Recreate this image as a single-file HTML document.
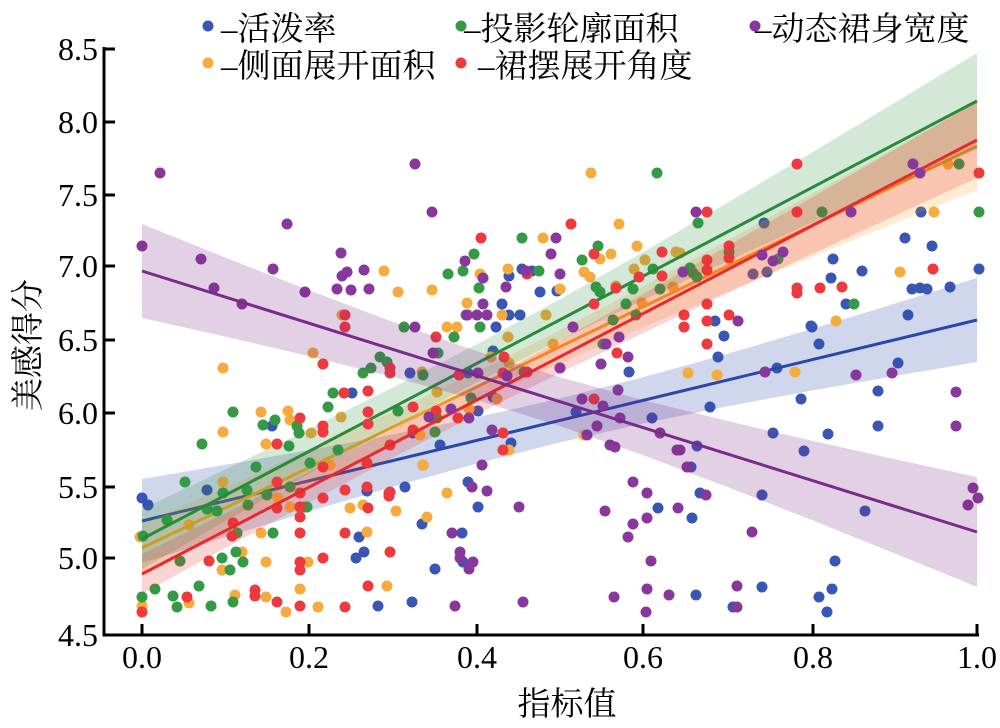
<!DOCTYPE html>
<html><head><meta charset="utf-8"><style>
html,body{margin:0;padding:0;background:#fff;}
svg{display:block;}
.b{fill:#3a56b4}.g{fill:#349a46}.o{fill:#f5ab3e}.r{fill:#ec3a3e}.p{fill:#88379c}
.t{font-family:"Liberation Serif","Noto Serif CJK SC",serif;fill:#000;}
</style></head><body>
<svg width="1000" height="728" viewBox="0 0 1000 728" xmlns="http://www.w3.org/2000/svg">
<rect width="1000" height="728" fill="#fff"/>

<!-- BLUE -->
<g class="b">
<circle cx="142" cy="498" r="5.5"/><circle cx="148" cy="505" r="5.5"/><circle cx="207" cy="490" r="5.5"/><circle cx="272" cy="426" r="5.5"/><circle cx="352" cy="393" r="5.5"/><circle cx="359" cy="537" r="5.5"/><circle cx="367" cy="491" r="5.5"/><circle cx="364" cy="552" r="5.5"/><circle cx="356" cy="558" r="5.5"/><circle cx="378" cy="606" r="5.5"/><circle cx="412" cy="602" r="5.5"/><circle cx="435" cy="569" r="5.5"/><circle cx="422" cy="524" r="5.5"/><circle cx="462" cy="533" r="5.5"/><circle cx="463" cy="562" r="5.5"/><circle cx="468" cy="482" r="5.5"/><circle cx="478" cy="507" r="5.5"/><circle cx="405" cy="487" r="5.5"/><circle cx="410" cy="373" r="5.5"/><circle cx="413" cy="433" r="5.5"/><circle cx="440" cy="445" r="5.5"/><circle cx="423" cy="465" r="5.5"/><circle cx="468" cy="373" r="5.5"/><circle cx="478" cy="411" r="5.5"/><circle cx="493" cy="397" r="5.5"/><circle cx="493" cy="351" r="5.5"/><circle cx="502" cy="304" r="5.5"/><circle cx="509" cy="276" r="5.5"/><circle cx="509" cy="315" r="5.5"/><circle cx="520" cy="315" r="5.5"/><circle cx="496" cy="327" r="5.5"/><circle cx="522" cy="269" r="5.5"/><circle cx="532" cy="271" r="5.5"/><circle cx="540" cy="292" r="5.5"/><circle cx="557" cy="291" r="5.5"/><circle cx="511" cy="443" r="5.5"/><circle cx="576" cy="412" r="5.5"/><circle cx="629" cy="372" r="5.5"/><circle cx="652" cy="418" r="5.5"/><circle cx="764" cy="223" r="5.5"/><circle cx="905" cy="238" r="5.5"/><circle cx="932" cy="246" r="5.5"/><circle cx="921" cy="212" r="5.5"/><circle cx="753" cy="274" r="5.5"/><circle cx="767" cy="272" r="5.5"/><circle cx="833" cy="259" r="5.5"/><circle cx="831" cy="278" r="5.5"/><circle cx="862" cy="271" r="5.5"/><circle cx="979" cy="269" r="5.5"/><circle cx="912" cy="289" r="5.5"/><circle cx="920" cy="288" r="5.5"/><circle cx="927" cy="289" r="5.5"/><circle cx="950" cy="287" r="5.5"/><circle cx="846" cy="304" r="5.5"/><circle cx="908" cy="315" r="5.5"/><circle cx="811" cy="326" r="5.5"/><circle cx="724" cy="336" r="5.5"/><circle cx="715" cy="321" r="5.5"/><circle cx="718" cy="357" r="5.5"/><circle cx="777" cy="368" r="5.5"/><circle cx="812" cy="327" r="5.5"/><circle cx="819" cy="344" r="5.5"/><circle cx="898" cy="363" r="5.5"/><circle cx="878" cy="391" r="5.5"/><circle cx="710" cy="407" r="5.5"/><circle cx="801" cy="399" r="5.5"/><circle cx="878" cy="426" r="5.5"/><circle cx="773" cy="433" r="5.5"/><circle cx="828" cy="434" r="5.5"/><circle cx="804" cy="451" r="5.5"/><circle cx="697" cy="446" r="5.5"/><circle cx="691" cy="467" r="5.5"/><circle cx="700" cy="493" r="5.5"/><circle cx="762" cy="495" r="5.5"/><circle cx="865" cy="511" r="5.5"/><circle cx="658" cy="508" r="5.5"/><circle cx="692" cy="518" r="5.5"/><circle cx="835" cy="561" r="5.5"/><circle cx="762" cy="587" r="5.5"/><circle cx="832" cy="589" r="5.5"/><circle cx="696" cy="595" r="5.5"/><circle cx="819" cy="597" r="5.5"/><circle cx="733" cy="607" r="5.5"/><circle cx="827" cy="612" r="5.5"/>
</g>
<polygon fill="#2a48a8" fill-opacity="0.22" points="142,479 225.5,464.8 309,450.1 392.5,434.5 476,417.5 559.5,398.5 643,377.3 726.5,354.1 810,329.5 893.5,304 977,278 977,362 893.5,376.2 810,390.9 726.5,406.5 643,423.5 559.5,442.5 476,463.7 392.5,486.9 309,511.5 225.5,537 142,563"/>
<line x1="142" y1="521" x2="977" y2="320" stroke="#2a48a8" stroke-width="3"/>

<!-- ORANGE -->
<g class="o">
<circle cx="142" cy="606" r="5.5"/><circle cx="189" cy="603" r="5.5"/><circle cx="222" cy="570" r="5.5"/><circle cx="242" cy="552" r="5.5"/><circle cx="266" cy="562" r="5.5"/><circle cx="235" cy="595" r="5.5"/><circle cx="266" cy="597" r="5.5"/><circle cx="286" cy="612" r="5.5"/><circle cx="300" cy="589" r="5.5"/><circle cx="318" cy="607" r="5.5"/><circle cx="308" cy="562" r="5.5"/><circle cx="261" cy="533" r="5.5"/><circle cx="367" cy="532" r="5.5"/><circle cx="140" cy="537" r="5.5"/><circle cx="189" cy="525" r="5.5"/><circle cx="223" cy="482" r="5.5"/><circle cx="278" cy="498" r="5.5"/><circle cx="290" cy="507" r="5.5"/><circle cx="299" cy="507" r="5.5"/><circle cx="350" cy="508" r="5.5"/><circle cx="363" cy="505" r="5.5"/><circle cx="396" cy="511" r="5.5"/><circle cx="427" cy="517" r="5.5"/><circle cx="447" cy="493" r="5.5"/><circle cx="387" cy="586" r="5.5"/><circle cx="223" cy="432" r="5.5"/><circle cx="266" cy="444" r="5.5"/><circle cx="290" cy="420" r="5.5"/><circle cx="288" cy="411" r="5.5"/><circle cx="311" cy="433" r="5.5"/><circle cx="261" cy="412" r="5.5"/><circle cx="223" cy="368" r="5.5"/><circle cx="313" cy="353" r="5.5"/><circle cx="341" cy="417" r="5.5"/><circle cx="342" cy="315" r="5.5"/><circle cx="330" cy="465" r="5.5"/><circle cx="384" cy="271" r="5.5"/><circle cx="398" cy="292" r="5.5"/><circle cx="432" cy="290" r="5.5"/><circle cx="447" cy="327" r="5.5"/><circle cx="457" cy="327" r="5.5"/><circle cx="467" cy="303" r="5.5"/><circle cx="468" cy="315" r="5.5"/><circle cx="480" cy="274" r="5.5"/><circle cx="502" cy="315" r="5.5"/><circle cx="508" cy="269" r="5.5"/><circle cx="508" cy="337" r="5.5"/><circle cx="509" cy="363" r="5.5"/><circle cx="491" cy="357" r="5.5"/><circle cx="546" cy="315" r="5.5"/><circle cx="543" cy="238" r="5.5"/><circle cx="553" cy="344" r="5.5"/><circle cx="560" cy="289" r="5.5"/><circle cx="584" cy="272" r="5.5"/><circle cx="590" cy="277" r="5.5"/><circle cx="600" cy="259" r="5.5"/><circle cx="611" cy="254" r="5.5"/><circle cx="616" cy="286" r="5.5"/><circle cx="637" cy="246" r="5.5"/><circle cx="634" cy="269" r="5.5"/><circle cx="642" cy="303" r="5.5"/><circle cx="645" cy="260" r="5.5"/><circle cx="673" cy="287" r="5.5"/><circle cx="676" cy="252" r="5.5"/><circle cx="591" cy="173" r="5.5"/><circle cx="619" cy="224" r="5.5"/><circle cx="680" cy="253" r="5.5"/><circle cx="688" cy="373" r="5.5"/><circle cx="717" cy="375" r="5.5"/><circle cx="795" cy="372" r="5.5"/><circle cx="836" cy="321" r="5.5"/><circle cx="900" cy="272" r="5.5"/><circle cx="934" cy="212" r="5.5"/><circle cx="948" cy="164" r="5.5"/><circle cx="584" cy="435" r="5.5"/><circle cx="509" cy="450" r="5.5"/><circle cx="497" cy="399" r="5.5"/><circle cx="469" cy="409" r="5.5"/><circle cx="437" cy="392" r="5.5"/><circle cx="420" cy="435" r="5.5"/><circle cx="423" cy="465" r="5.5"/><circle cx="422" cy="372" r="5.5"/>
</g>
<polygon fill="#f5a020" fill-opacity="0.2" points="142,524 225.5,487.2 309,449.9 392.5,411.7 476,372.2 559.5,330.5 643,286.4 726.5,241.1 810,195 893.5,148.6 977,102 977,190 893.5,223.8 810,257.8 726.5,292.1 643,327.2 559.5,363.5 476,402.2 392.5,443.1 309,485.3 225.5,528.4 142,572"/>
<line x1="142" y1="548" x2="977" y2="146" stroke="#f5a020" stroke-width="3"/>

<!-- GREEN -->
<g class="g">
<circle cx="142" cy="597" r="5.5"/><circle cx="155" cy="589" r="5.5"/><circle cx="173" cy="596" r="5.5"/><circle cx="177" cy="607" r="5.5"/><circle cx="199" cy="586" r="5.5"/><circle cx="211" cy="606" r="5.5"/><circle cx="180" cy="561" r="5.5"/><circle cx="222" cy="558" r="5.5"/><circle cx="230" cy="570" r="5.5"/><circle cx="236" cy="552" r="5.5"/><circle cx="243" cy="562" r="5.5"/><circle cx="237" cy="533" r="5.5"/><circle cx="233" cy="602" r="5.5"/><circle cx="305" cy="507" r="5.5"/><circle cx="273" cy="533" r="5.5"/><circle cx="143" cy="536" r="5.5"/><circle cx="167" cy="520" r="5.5"/><circle cx="185" cy="482" r="5.5"/><circle cx="223" cy="493" r="5.5"/><circle cx="202" cy="444" r="5.5"/><circle cx="256" cy="467" r="5.5"/><circle cx="207" cy="509" r="5.5"/><circle cx="217" cy="511" r="5.5"/><circle cx="247" cy="490" r="5.5"/><circle cx="248" cy="505" r="5.5"/><circle cx="267" cy="495" r="5.5"/><circle cx="290" cy="487" r="5.5"/><circle cx="307" cy="507" r="5.5"/><circle cx="263" cy="425" r="5.5"/><circle cx="275" cy="420" r="5.5"/><circle cx="289" cy="446" r="5.5"/><circle cx="297" cy="426" r="5.5"/><circle cx="299" cy="433" r="5.5"/><circle cx="233" cy="412" r="5.5"/><circle cx="328" cy="407" r="5.5"/><circle cx="333" cy="393" r="5.5"/><circle cx="338" cy="450" r="5.5"/><circle cx="310" cy="463" r="5.5"/><circle cx="363" cy="373" r="5.5"/><circle cx="371" cy="368" r="5.5"/><circle cx="380" cy="357" r="5.5"/><circle cx="387" cy="362" r="5.5"/><circle cx="398" cy="411" r="5.5"/><circle cx="404" cy="327" r="5.5"/><circle cx="423" cy="375" r="5.5"/><circle cx="437" cy="418" r="5.5"/><circle cx="438" cy="353" r="5.5"/><circle cx="454" cy="337" r="5.5"/><circle cx="448" cy="274" r="5.5"/><circle cx="463" cy="271" r="5.5"/><circle cx="466" cy="315" r="5.5"/><circle cx="471" cy="398" r="5.5"/><circle cx="474" cy="254" r="5.5"/><circle cx="479" cy="288" r="5.5"/><circle cx="480" cy="327" r="5.5"/><circle cx="522" cy="238" r="5.5"/><circle cx="539" cy="271" r="5.5"/><circle cx="524" cy="372" r="5.5"/><circle cx="582" cy="260" r="5.5"/><circle cx="598" cy="246" r="5.5"/><circle cx="596" cy="287" r="5.5"/><circle cx="600" cy="292" r="5.5"/><circle cx="603" cy="344" r="5.5"/><circle cx="613" cy="320" r="5.5"/><circle cx="626" cy="304" r="5.5"/><circle cx="633" cy="289" r="5.5"/><circle cx="636" cy="315" r="5.5"/><circle cx="653" cy="269" r="5.5"/><circle cx="660" cy="289" r="5.5"/><circle cx="657" cy="173" r="5.5"/><circle cx="698" cy="223" r="5.5"/><circle cx="690" cy="268" r="5.5"/><circle cx="693" cy="273" r="5.5"/><circle cx="697" cy="277" r="5.5"/><circle cx="729" cy="252" r="5.5"/><circle cx="778" cy="259" r="5.5"/><circle cx="822" cy="212" r="5.5"/><circle cx="854" cy="304" r="5.5"/><circle cx="959" cy="164" r="5.5"/><circle cx="979" cy="212" r="5.5"/><circle cx="435" cy="432" r="5.5"/>
</g>
<polygon fill="#2a8a3a" fill-opacity="0.2" points="142,509 225.5,469.4 309,429.1 392.5,387.7 476,344.8 559.5,299.6 643,252.2 726.5,203.3 810,153.6 893.5,103.4 977,53 977,149 893.5,186.2 810,223.6 726.5,261.5 643,300.2 559.5,340.4 476,382.8 392.5,427.5 309,473.7 225.5,521 142,569"/>
<line x1="142" y1="539" x2="977" y2="101" stroke="#2a8a3a" stroke-width="3"/>

<!-- RED -->
<g class="r">
<circle cx="142" cy="612" r="5.5"/><circle cx="187" cy="597" r="5.5"/><circle cx="209" cy="561" r="5.5"/><circle cx="232" cy="536" r="5.5"/><circle cx="255" cy="590" r="5.5"/><circle cx="255" cy="596" r="5.5"/><circle cx="277" cy="602" r="5.5"/><circle cx="300" cy="606" r="5.5"/><circle cx="345" cy="607" r="5.5"/><circle cx="300" cy="562" r="5.5"/><circle cx="300" cy="570" r="5.5"/><circle cx="323" cy="558" r="5.5"/><circle cx="300" cy="533" r="5.5"/><circle cx="300" cy="517" r="5.5"/><circle cx="300" cy="507" r="5.5"/><circle cx="300" cy="493" r="5.5"/><circle cx="277" cy="508" r="5.5"/><circle cx="323" cy="498" r="5.5"/><circle cx="345" cy="533" r="5.5"/><circle cx="345" cy="490" r="5.5"/><circle cx="367" cy="487" r="5.5"/><circle cx="389" cy="493" r="5.5"/><circle cx="389" cy="496" r="5.5"/><circle cx="368" cy="508" r="5.5"/><circle cx="390" cy="552" r="5.5"/><circle cx="368" cy="586" r="5.5"/><circle cx="277" cy="482" r="5.5"/><circle cx="233" cy="523" r="5.5"/><circle cx="277" cy="444" r="5.5"/><circle cx="300" cy="418" r="5.5"/><circle cx="323" cy="426" r="5.5"/><circle cx="323" cy="432" r="5.5"/><circle cx="323" cy="364" r="5.5"/><circle cx="345" cy="315" r="5.5"/><circle cx="345" cy="327" r="5.5"/><circle cx="344" cy="393" r="5.5"/><circle cx="368" cy="391" r="5.5"/><circle cx="368" cy="412" r="5.5"/><circle cx="368" cy="424" r="5.5"/><circle cx="367" cy="463" r="5.5"/><circle cx="323" cy="467" r="5.5"/><circle cx="390" cy="445" r="5.5"/><circle cx="390" cy="368" r="5.5"/><circle cx="390" cy="373" r="5.5"/><circle cx="390" cy="492" r="5.5"/><circle cx="413" cy="407" r="5.5"/><circle cx="413" cy="430" r="5.5"/><circle cx="436" cy="337" r="5.5"/><circle cx="436" cy="411" r="5.5"/><circle cx="458" cy="418" r="5.5"/><circle cx="459" cy="375" r="5.5"/><circle cx="503" cy="373" r="5.5"/><circle cx="504" cy="357" r="5.5"/><circle cx="527" cy="372" r="5.5"/><circle cx="503" cy="433" r="5.5"/><circle cx="503" cy="450" r="5.5"/><circle cx="527" cy="274" r="5.5"/><circle cx="481" cy="238" r="5.5"/><circle cx="571" cy="224" r="5.5"/><circle cx="594" cy="254" r="5.5"/><circle cx="594" cy="304" r="5.5"/><circle cx="594" cy="399" r="5.5"/><circle cx="617" cy="353" r="5.5"/><circle cx="616" cy="288" r="5.5"/><circle cx="639" cy="277" r="5.5"/><circle cx="662" cy="252" r="5.5"/><circle cx="662" cy="276" r="5.5"/><circle cx="707" cy="212" r="5.5"/><circle cx="729" cy="246" r="5.5"/><circle cx="729" cy="258" r="5.5"/><circle cx="707" cy="260" r="5.5"/><circle cx="707" cy="270" r="5.5"/><circle cx="797" cy="164" r="5.5"/><circle cx="797" cy="212" r="5.5"/><circle cx="979" cy="173" r="5.5"/><circle cx="820" cy="288" r="5.5"/><circle cx="797" cy="288" r="5.5"/><circle cx="797" cy="293" r="5.5"/><circle cx="842" cy="287" r="5.5"/><circle cx="933" cy="269" r="5.5"/><circle cx="729" cy="315" r="5.5"/><circle cx="707" cy="304" r="5.5"/><circle cx="707" cy="321" r="5.5"/><circle cx="684" cy="315" r="5.5"/><circle cx="684" cy="327" r="5.5"/><circle cx="707" cy="344" r="5.5"/>
</g>
<polygon fill="#ea2a2a" fill-opacity="0.2" points="142,554 225.5,513.3 309,471.9 392.5,429.7 476,386.1 559.5,340.8 643,294.1 726.5,246.6 810,198.6 893.5,150.4 977,102 977,178 893.5,216.4 810,255 726.5,293.8 643,333.1 559.5,373.2 476,414.7 392.5,457.9 309,502.5 225.5,547.9 142,594"/>
<line x1="142" y1="574" x2="977" y2="140" stroke="#ea2a2a" stroke-width="3"/>

<!-- PURPLE -->
<g class="p">
<circle cx="142" cy="246" r="5.5"/><circle cx="160" cy="173" r="5.5"/><circle cx="201" cy="259" r="5.5"/><circle cx="214" cy="288" r="5.5"/><circle cx="242" cy="304" r="5.5"/><circle cx="273" cy="269" r="5.5"/><circle cx="287" cy="224" r="5.5"/><circle cx="305" cy="292" r="5.5"/><circle cx="341" cy="253" r="5.5"/><circle cx="347" cy="272" r="5.5"/><circle cx="342" cy="276" r="5.5"/><circle cx="337" cy="289" r="5.5"/><circle cx="351" cy="290" r="5.5"/><circle cx="364" cy="270" r="5.5"/><circle cx="369" cy="289" r="5.5"/><circle cx="415" cy="164" r="5.5"/><circle cx="432" cy="212" r="5.5"/><circle cx="465" cy="261" r="5.5"/><circle cx="483" cy="278" r="5.5"/><circle cx="506" cy="287" r="5.5"/><circle cx="526" cy="271" r="5.5"/><circle cx="556" cy="238" r="5.5"/><circle cx="551" cy="254" r="5.5"/><circle cx="560" cy="274" r="5.5"/><circle cx="467" cy="315" r="5.5"/><circle cx="477" cy="315" r="5.5"/><circle cx="487" cy="315" r="5.5"/><circle cx="483" cy="304" r="5.5"/><circle cx="415" cy="327" r="5.5"/><circle cx="433" cy="353" r="5.5"/><circle cx="573" cy="327" r="5.5"/><circle cx="619" cy="337" r="5.5"/><circle cx="628" cy="357" r="5.5"/><circle cx="601" cy="364" r="5.5"/><circle cx="606" cy="344" r="5.5"/><circle cx="560" cy="368" r="5.5"/><circle cx="507" cy="376" r="5.5"/><circle cx="478" cy="373" r="5.5"/><circle cx="451" cy="409" r="5.5"/><circle cx="469" cy="418" r="5.5"/><circle cx="429" cy="417" r="5.5"/><circle cx="492" cy="430" r="5.5"/><circle cx="482" cy="465" r="5.5"/><circle cx="582" cy="399" r="5.5"/><circle cx="587" cy="435" r="5.5"/><circle cx="597" cy="426" r="5.5"/><circle cx="603" cy="406" r="5.5"/><circle cx="610" cy="445" r="5.5"/><circle cx="615" cy="447" r="5.5"/><circle cx="620" cy="418" r="5.5"/><circle cx="618" cy="390" r="5.5"/><circle cx="660" cy="433" r="5.5"/><circle cx="677" cy="450" r="5.5"/><circle cx="633" cy="482" r="5.5"/><circle cx="647" cy="493" r="5.5"/><circle cx="696" cy="212" r="5.5"/><circle cx="913" cy="164" r="5.5"/><circle cx="920" cy="173" r="5.5"/><circle cx="851" cy="212" r="5.5"/><circle cx="683" cy="272" r="5.5"/><circle cx="762" cy="255" r="5.5"/><circle cx="773" cy="261" r="5.5"/><circle cx="783" cy="252" r="5.5"/><circle cx="738" cy="321" r="5.5"/><circle cx="765" cy="372" r="5.5"/><circle cx="856" cy="375" r="5.5"/><circle cx="892" cy="373" r="5.5"/><circle cx="956" cy="392" r="5.5"/><circle cx="956" cy="426" r="5.5"/><circle cx="680" cy="450" r="5.5"/><circle cx="687" cy="467" r="5.5"/><circle cx="973" cy="488" r="5.5"/><circle cx="978" cy="498" r="5.5"/><circle cx="968" cy="505" r="5.5"/><circle cx="706" cy="495" r="5.5"/><circle cx="519" cy="507" r="5.5"/><circle cx="605" cy="511" r="5.5"/><circle cx="678" cy="508" r="5.5"/><circle cx="647" cy="518" r="5.5"/><circle cx="633" cy="524" r="5.5"/><circle cx="628" cy="537" r="5.5"/><circle cx="752" cy="532" r="5.5"/><circle cx="651" cy="561" r="5.5"/><circle cx="647" cy="589" r="5.5"/><circle cx="737" cy="586" r="5.5"/><circle cx="523" cy="602" r="5.5"/><circle cx="614" cy="597" r="5.5"/><circle cx="669" cy="595" r="5.5"/><circle cx="737" cy="607" r="5.5"/><circle cx="646" cy="612" r="5.5"/><circle cx="452" cy="533" r="5.5"/><circle cx="460" cy="552" r="5.5"/><circle cx="460" cy="558" r="5.5"/><circle cx="473" cy="562" r="5.5"/><circle cx="469" cy="569" r="5.5"/><circle cx="472" cy="487" r="5.5"/><circle cx="487" cy="491" r="5.5"/><circle cx="455" cy="606" r="5.5"/>
</g>
<polygon fill="#7a2a8a" fill-opacity="0.22" points="142,224 225.5,257.6 309,290.3 392.5,321.8 476,351 559.5,377.1 643,400.1 726.5,420.8 810,440.3 893.5,458.9 977,477.1 977,586.9 893.5,552.9 810,519.3 726.5,486.6 643,455.1 559.5,425.9 476,399.8 392.5,376.8 309,356.1 225.5,336.6 142,318"/>
<line x1="142" y1="271" x2="977" y2="532" stroke="#7a2a8a" stroke-width="3"/>

<!-- AXES -->
<g stroke="#000" stroke-width="3" fill="none">
<line x1="104" y1="47" x2="104" y2="636.5"/>
<line x1="102.5" y1="635" x2="979" y2="635"/>
<line x1="104" y1="49" x2="115" y2="49"/>
<line x1="104" y1="122" x2="115" y2="122"/>
<line x1="104" y1="195" x2="115" y2="195"/>
<line x1="104" y1="266" x2="115" y2="266"/>
<line x1="104" y1="340" x2="115" y2="340"/>
<line x1="104" y1="413" x2="115" y2="413"/>
<line x1="104" y1="487" x2="115" y2="487"/>
<line x1="104" y1="558" x2="115" y2="558"/>
<line x1="142" y1="635" x2="142" y2="624"/>
<line x1="309" y1="635" x2="309" y2="624"/>
<line x1="477" y1="635" x2="477" y2="624"/>
<line x1="643" y1="635" x2="643" y2="624"/>
<line x1="813" y1="635" x2="813" y2="624"/>
<line x1="977" y1="635" x2="977" y2="624"/>
</g>

<g class="t" font-size="32" text-anchor="end">
<text x="98" y="60">8.5</text>
<text x="98" y="133">8.0</text>
<text x="98" y="206">7.5</text>
<text x="98" y="277">7.0</text>
<text x="98" y="351">6.5</text>
<text x="98" y="424">6.0</text>
<text x="98" y="498">5.5</text>
<text x="98" y="569">5.0</text>
<text x="98" y="646">4.5</text>
</g>
<g class="t" font-size="32" text-anchor="middle">
<text x="142" y="668">0.0</text>
<text x="309" y="668">0.2</text>
<text x="477" y="668">0.4</text>
<text x="643" y="668">0.6</text>
<text x="813" y="668">0.8</text>
<text x="977" y="668">1.0</text>
</g>

<text class="t" font-size="33" x="567" y="715" text-anchor="middle">指标值</text>
<text class="t" font-size="33" text-anchor="middle" transform="translate(39,345) rotate(-90)">美感得分</text>

<!-- LEGEND -->
<circle cx="208" cy="26" r="5.5" class="b"/>
<circle cx="208" cy="63" r="5.5" class="o"/>
<circle cx="461" cy="26" r="5.5" class="g"/>
<circle cx="461" cy="63" r="5.5" class="r"/>
<circle cx="755" cy="26" r="5.5" class="p"/>
<g class="t" font-size="33">
<text x="221" y="40">–活泼率</text>
<text x="221" y="77">–侧面展开面积</text>
<text x="464" y="40">–投影轮廓面积</text>
<text x="478" y="77">–裙摆展开角度</text>
<text x="755" y="40">–动态裙身宽度</text>
</g>
</svg>
</body></html>
